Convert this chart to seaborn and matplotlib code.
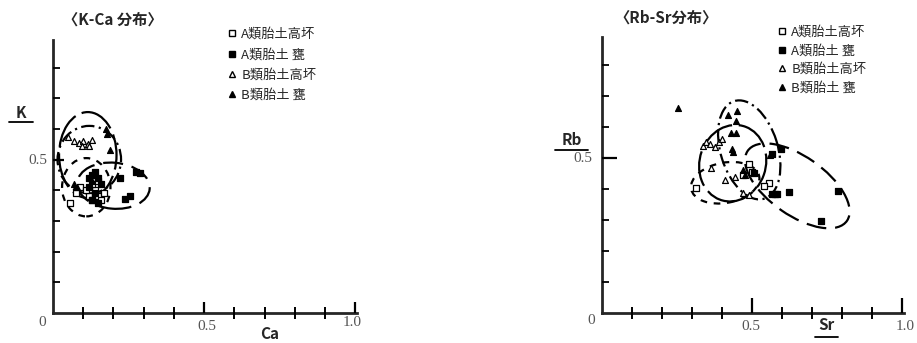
import numpy as np
import pandas as pd
import matplotlib
matplotlib.use("Agg")
import matplotlib.pyplot as plt
from matplotlib.patches import Ellipse
from matplotlib.lines import Line2D
import seaborn as sns

# ================================
# Data
# ================================
groups = ["A類胎土高坏", "A類胎土 甕", "B類胎土高坏", "B類胎土 甕"]

# K-Ca panel
kca_a_takatsuki_ca = [0.056, 0.08, 0.09, 0.075, 0.12, 0.13, 0.15, 0.14, 0.16, 0.17, 0.13, 0.15, 0.11]
kca_a_takatsuki_k = [0.36, 0.40, 0.41, 0.39, 0.38, 0.37, 0.38, 0.40, 0.37, 0.39, 0.42, 0.43, 0.40]
kca_a_kame_ca = [0.12, 0.13, 0.14, 0.15, 0.12, 0.14, 0.16, 0.13, 0.15, 0.22, 0.275, 0.286, 0.237, 0.253]
kca_a_kame_k = [0.44, 0.45, 0.46, 0.44, 0.41, 0.39, 0.42, 0.37, 0.36, 0.44, 0.46, 0.455, 0.372, 0.38]
kca_b_takatsuki_ca = [0.05, 0.07, 0.085, 0.10, 0.115, 0.13, 0.12, 0.095]
kca_b_takatsuki_k = [0.575, 0.56, 0.555, 0.56, 0.55, 0.565, 0.545, 0.545]
kca_b_kame_ca = [0.175, 0.18, 0.19, 0.08, 0.07, 0.13]
kca_b_kame_k = [0.60, 0.585, 0.53, 0.41, 0.42, 0.43]

# Rb-Sr panel
rbsr_a_takatsuki_sr = [0.314, 0.49, 0.50, 0.556, 0.54, 0.47]
rbsr_a_takatsuki_rb = [0.402, 0.48, 0.455, 0.418, 0.41, 0.445]
rbsr_a_kame_sr = [0.567, 0.595, 0.567, 0.584, 0.575, 0.623, 0.786, 0.73, 0.505]
rbsr_a_kame_rb = [0.513, 0.528, 0.384, 0.384, 0.384, 0.391, 0.395, 0.298, 0.45]
rbsr_b_takatsuki_sr = [0.335, 0.345, 0.36, 0.375, 0.39, 0.40, 0.363, 0.41, 0.444, 0.468, 0.488]
rbsr_b_takatsuki_rb = [0.54, 0.55, 0.545, 0.535, 0.55, 0.56, 0.467, 0.43, 0.44, 0.388, 0.38]
rbsr_b_kame_sr = [0.253, 0.42, 0.45, 0.447, 0.43, 0.446, 0.433, 0.435, 0.47, 0.475, 0.56]
rbsr_b_kame_rb = [0.66, 0.64, 0.65, 0.62, 0.58, 0.58, 0.53, 0.52, 0.46, 0.445, 0.51]

# group envelopes drawn by hand in the original: centre x, centre y, width, height, angle
kca_envelopes = {
    groups[0]: (0.11, 0.41, 0.16, 0.19, 0),
    groups[1]: (0.20, 0.415, 0.24, 0.15, -5),
    groups[2]: (0.115, 0.515, 0.19, 0.28, 0),
    groups[3]: (0.12, 0.50, 0.21, 0.22, 0),
}
rbsr_envelopes = {
    groups[0]: (0.41, 0.42, 0.23, 0.13, 10),
    groups[1]: (0.65, 0.41, 0.40, 0.19, -34),
    groups[2]: (0.435, 0.483, 0.22, 0.25, -20),
    groups[3]: (0.49, 0.526, 0.33, 0.19, 108),
}

kca = pd.concat([
    pd.DataFrame({"x": kca_a_takatsuki_ca, "y": kca_a_takatsuki_k, "group": groups[0]}),
    pd.DataFrame({"x": kca_a_kame_ca, "y": kca_a_kame_k, "group": groups[1]}),
    pd.DataFrame({"x": kca_b_takatsuki_ca, "y": kca_b_takatsuki_k, "group": groups[2]}),
    pd.DataFrame({"x": kca_b_kame_ca, "y": kca_b_kame_k, "group": groups[3]}),
], ignore_index=True)
rbsr = pd.concat([
    pd.DataFrame({"x": rbsr_a_takatsuki_sr, "y": rbsr_a_takatsuki_rb, "group": groups[0]}),
    pd.DataFrame({"x": rbsr_a_kame_sr, "y": rbsr_a_kame_rb, "group": groups[1]}),
    pd.DataFrame({"x": rbsr_b_takatsuki_sr, "y": rbsr_b_takatsuki_rb, "group": groups[2]}),
    pd.DataFrame({"x": rbsr_b_kame_sr, "y": rbsr_b_kame_rb, "group": groups[3]}),
], ignore_index=True)

# ================================
# Styles
# ================================
sns.set_style("ticks")
plt.rcParams["font.family"] = ["Noto Sans CJK JP", "DejaVu Sans"]
plt.rcParams["axes.axisbelow"] = False

marker_style = {
    groups[0]: dict(marker="s", facecolor="white"),
    groups[1]: dict(marker="s", facecolor="black"),
    groups[2]: dict(marker="^", facecolor="white"),
    groups[3]: dict(marker="^", facecolor="black"),
}
env_style = {
    groups[0]: (0, (3, 3)),
    groups[1]: (0, (9, 4)),
    groups[2]: (0, (16, 3)),
    groups[3]: (0, (6, 2, 1, 2)),
}

num_font = dict(family="Liberation Serif", color="#555555", fontsize=11)

fig = plt.figure(figsize=(9.17, 3.43), dpi=100)
W, H = 917, 343


def px_axes(x0, x1, y_top, y_bot):
    return fig.add_axes([x0 / W, 1 - y_bot / H, (x1 - x0) / W, (y_bot - y_top) / H])


def draw_panel(ax, df, envelopes, ymax, long_tick):
    for g in groups:
        sub = df[df["group"] == g]
        st = marker_style[g]
        sns.scatterplot(data=sub, x="x", y="y", ax=ax, marker=st["marker"], s=18,
                        color=st["facecolor"], edgecolor="black", linewidth=0.9,
                        legend=False, zorder=3)
    for g, (cx, cy, w, h, ang) in envelopes.items():
        ax.add_patch(Ellipse((cx, cy), w, h, angle=ang, fill=False, edgecolor="black",
                             lw=1.6, linestyle=env_style[g], zorder=2))
    ax.set_xlim(0, 1.005)
    ax.set_ylim(0, ymax)
    sns.despine(ax=ax)
    for s in ["left", "bottom"]:
        ax.spines[s].set_linewidth(2)
    # small ticks every 0.1 (minor), long ticks at 0.5 / 1.0 (major)
    ax.set_xticks([0.5, 1.0])
    ax.set_yticks([0.5])
    ax.set_xticks(np.arange(0.1, 1.01, 0.1), minor=True)
    ax.set_yticks(np.arange(0.1, 0.81, 0.1), minor=True)
    ax.tick_params(axis="both", which="both", direction="in", width=1.3, color="black",
                   bottom=True, left=True, top=False, right=False,
                   labelbottom=False, labelleft=False)
    ax.tick_params(axis="y", which="minor", length=5)
    ax.tick_params(axis="x", which="minor", length=9, width=1.4, direction="inout")
    ax.tick_params(which="major", length=long_tick, width=1.6)
    ax.set_xlabel("")
    ax.set_ylabel("")


# ---- left panel: K-Ca
ax1 = px_axes(53, 357, 40, 313)
draw_panel(ax1, kca, kca_envelopes, 0.89, 8)
fig.text(42 / W, 1 - 322 / H, "0", ha="center", va="center", **num_font)
fig.text(38 / W, 1 - 160 / H, "0.5", ha="center", va="center", **num_font)
fig.text(207 / W, 1 - 327 / H, "0.5", ha="center", va="center", **num_font)
fig.text(352 / W, 1 - 323 / H, "1.0", ha="center", va="center", **num_font)
fig.text(21 / W, 1 - 113 / H, "K", ha="center", va="center", fontsize=11, fontweight="bold")
fig.add_artist(Line2D([9 / W, 33 / W], [1 - 122 / H, 1 - 122 / H], color="black", lw=1.3))
fig.text(270 / W, 1 - 334 / H, "Ca", ha="center", va="center", fontsize=11, fontweight="bold")
fig.text(113 / W, 1 - 20 / H, "〈K-Ca 分布〉", ha="center", va="center", fontsize=11, fontweight="bold")

# ---- right panel: Rb-Sr
ax2 = px_axes(602, 904, 37, 313)
draw_panel(ax2, rbsr, rbsr_envelopes, 0.89, 11)
fig.text(591 / W, 1 - 321 / H, "0", ha="center", va="center", **num_font)
fig.text(583 / W, 1 - 158 / H, "0.5", ha="center", va="center", **num_font)
fig.text(751 / W, 1 - 326 / H, "0.5", ha="center", va="center", **num_font)
fig.text(905 / W, 1 - 326 / H, "1.0", ha="center", va="center", **num_font)
fig.text(572 / W, 1 - 140 / H, "Rb", ha="center", va="center", fontsize=11, fontweight="bold")
fig.add_artist(Line2D([555 / W, 588 / W], [1 - 150 / H, 1 - 150 / H], color="black", lw=1.3))
fig.text(826 / W, 1 - 325 / H, "Sr", ha="center", va="center", fontsize=11, fontweight="bold")
fig.add_artist(Line2D([815 / W, 838 / W], [1 - 337 / H, 1 - 337 / H], color="black", lw=1.3))
fig.text(666 / W, 1 - 18 / H, "〈Rb-Sr分布〉", ha="center", va="center", fontsize=11, fontweight="bold")

# ---- legends
handles = [Line2D([], [], linestyle="none", marker=marker_style[g]["marker"], markersize=4.5,
                  markerfacecolor=marker_style[g]["facecolor"], markeredgecolor="black",
                  markeredgewidth=1.0) for g in groups]
for anchor, spacing in [((228 / W, 1 - 28 / H), 0.55), ((778 / W, 1 - 26 / H), 0.42)]:
    fig.legend(handles, groups, loc="upper left", bbox_to_anchor=anchor, frameon=False,
               handlelength=0.6, handletextpad=0.4, labelspacing=spacing,
               borderaxespad=0, borderpad=0, prop={"size": 9.5})

fig.savefig("out.png", dpi=100)
